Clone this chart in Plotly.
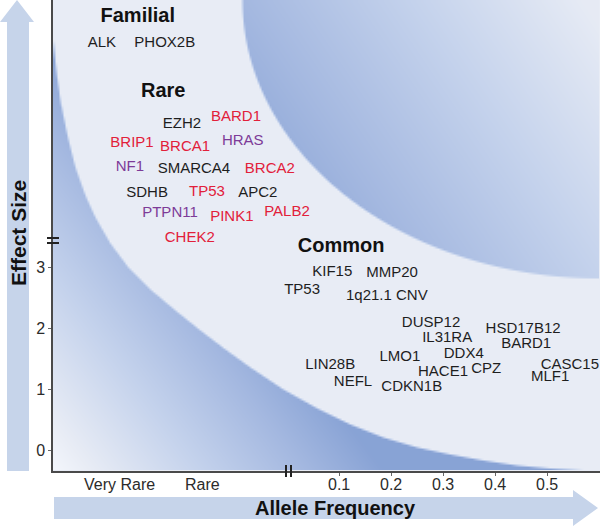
import numpy as np
import plotly.graph_objects as go

# ---------------- data ----------------
familial_genes = ["ALK", "PHOX2B"]
familial_x = [-0.356, -0.235]
familial_y = [6.69, 6.69]

rare_genes = ["EZH2", "BARD1", "BRIP1", "BRCA1", "HRAS", "NF1", "SMARCA4", "BRCA2",
              "SDHB", "TP53", "APC2", "PTPN11", "PINK1", "PALB2", "CHEK2"]
rare_x = [-0.202, -0.098, -0.298, -0.196, -0.085, -0.302, -0.179, -0.033,
          -0.269, -0.154, -0.056, -0.225, -0.106, 0.0, -0.187]
rare_y = [5.36, 5.48, 5.05, 4.98, 5.07, 4.65, 4.62, 4.62,
          4.23, 4.24, 4.23, 3.90, 3.83, 3.91, 3.49]
rare_group = ["k", "r", "r", "r", "p", "p", "k", "r",
              "k", "r", "k", "p", "r", "r", "r"]

common_genes = ["KIF15", "MMP20", "TP53", "1q21.1 CNV", "DUSP12", "HSD17B12", "IL31RA",
                "BARD1", "DDX4", "LMO1", "LIN28B", "CASC15", "HACE1", "CPZ", "MLF1",
                "NEFL", "CDKN1B"]
common_x = [0.087, 0.202, 0.029, 0.192, 0.277, 0.454, 0.308,
            0.460, 0.340, 0.217, 0.083, 0.544, 0.300, 0.383, 0.506,
            0.127, 0.240]
common_y = [2.93, 2.91, 2.63, 2.53, 2.09, 1.99, 1.83,
            1.74, 1.58, 1.53, 1.40, 1.40, 1.28, 1.32, 1.20,
            1.12, 1.04]

headers = ["Familial", "Rare", "Common"]
header_x = [-0.287, -0.238, 0.104]
header_y = [7.12, 5.89, 3.34]

y_ticks = [0, 1, 2, 3]
x_ticks = [0.1, 0.2, 0.3, 0.4, 0.5]
x_tick_text = ["0.1", "0.2", "0.3", "0.4", "0.5"]
rare_cat_labels = ["Very Rare", "Rare"]
rare_cat_x = [-0.323, -0.163]

# ---------------- layout geometry ----------------
W, H = 600, 526
ML, MB = 53, 55
PLOT_BOTTOM = H - MB          # 471
X0_PX, XS = 287.0, 520.0      # pixel of x=0, pixels per unit
Y0_PX, YS = 450.0, 60.8       # pixel of y=0, pixels per unit
x_range = [(ML - X0_PX) / XS, (W - X0_PX) / XS]
y_range = [(Y0_PX - PLOT_BOTTOM) / YS, Y0_PX / YS]

def px2x(p):
    return (p - X0_PX) / XS

def py2y(p):
    return (Y0_PX - p) / YS

def ppx(p):  # pixel -> paper x
    return (p - ML) / (W - ML)

def ppy(p):  # pixel -> paper y
    return (PLOT_BOTTOM - p) / PLOT_BOTTOM

# ---------------- schematic background (heatmap) ----------------
curve_px = np.array([53, 56, 60, 67, 75, 85, 95, 110, 128, 150, 175, 200, 225, 250,
                     283, 317, 350, 383, 417, 450, 483, 517, 550, 600], float)
curve_py = np.array([40, 70, 100, 135, 167, 195, 217, 243, 267, 289, 310, 330, 349, 367,
                     389, 408, 424, 437, 447, 454, 460, 465, 468, 471], float)

gx = np.arange(ML + 1, W, 2.0)
gy = np.arange(1, PLOT_BOTTOM, 2.0)
PX, PY = np.meshgrid(gx, gy)

BG = 0.13
# bottom-left gradient region, anti-aliased edge
cy = np.interp(PX, curve_px, curve_py)
slope = np.interp(PX, 0.5 * (curve_px[1:] + curve_px[:-1]),
                  np.diff(curve_py) / np.diff(curve_px))
d_curve = (PY - cy) / np.sqrt(1 + slope ** 2)
a_low = np.clip(d_curve / 2.0 + 0.5, 0, 1)
u = PX - ML
v = PLOT_BOTTOM - PY
t = np.clip((u + 0.75 * v) / 330.0, 0, 1)
z_low = 0.02 + 0.96 * t
# top-right elliptical region, anti-aliased edge
ea, eb = 358.0, 278.0
r = np.sqrt(((PX - 600) / ea) ** 2 + (PY / eb) ** 2)
gr = np.sqrt(((PX - 600) / ea ** 2) ** 2 + (PY / eb ** 2) ** 2) / np.maximum(r, 1e-6)
d_ell = (1 - r) / np.maximum(gr, 1e-6)
a_ell = np.clip(d_ell / 2.0 + 0.5, 0, 1)
s = (PX - 250) / 350.0
w = (278 - PY) / 278.0
z_ell = np.clip(1.07 - 0.62 * s - 0.333 * w, 0.15, 0.85)

z = BG * (1 - a_low) + z_low * a_low
z = z * (1 - a_ell) + z_ell * a_ell

colorscale = [[0.0, "#f5f8fd"], [0.13, "#e8ecf5"], [0.45, "#c4d2ec"],
              [0.75, "#a4b8e0"], [1.0, "#86a1d4"]]

fig = go.Figure()
fig.add_trace(go.Heatmap(
    x=px2x(gx), y=py2y(gy), z=np.round(z, 3),
    colorscale=colorscale, zmin=0, zmax=1, showscale=False,
    zsmooth="best", hoverinfo="skip"))

FONT = "Liberation Sans, Arial, sans-serif"
color_map = {"k": "#1e1e1e", "r": "#e2203a", "p": "#7d3b98"}

def text_trace(xs, ys, labels, size, colors):
    return go.Scatter(x=xs, y=ys, text=labels, mode="text",
                      textposition="middle center", cliponaxis=False,
                      textfont=dict(family=FONT, size=size, color=colors),
                      hoverinfo="text", showlegend=False)

fig.add_trace(text_trace(familial_x, familial_y, familial_genes, 15, color_map["k"]))
fig.add_trace(text_trace(rare_x, rare_y, rare_genes, 15,
                         [color_map[g] for g in rare_group]))
fig.add_trace(text_trace(common_x, common_y, common_genes, 15, color_map["k"]))
fig.add_trace(text_trace(header_x, header_y, ["<b>%s</b>" % h for h in headers], 20,
                         "#111111"))

# ---------------- arrows, breaks ----------------
arrow_col = "#c6d4ea"
shapes = []
vpath = "M {a},{b} L {c},{b} L {c},{d} L {e},{d} L {f},{g} L {h},{d} L {a},{d} Z".format(
    a=ppx(7), b=ppy(471), c=ppx(29), d=ppy(22), e=ppx(34), f=ppx(17), g=ppy(0), h=ppx(0))
shapes.append(dict(type="path", path=vpath, xref="paper", yref="paper",
                   fillcolor=arrow_col, line=dict(width=0), layer="below"))
hpath = "M {a},{b} L {c},{b} L {c},{d} L {e},{f} L {c},{g} L {c},{h} L {a},{h} Z".format(
    a=ppx(54), b=ppy(497), c=ppx(573), d=ppy(490), e=ppx(598), f=ppy(508),
    g=ppy(526), h=ppy(519))
shapes.append(dict(type="path", path=hpath, xref="paper", yref="paper",
                   fillcolor=arrow_col, line=dict(width=0), layer="below"))
for yy in (238, 243):
    shapes.append(dict(type="line", xref="paper", yref="paper",
                       x0=ppx(47), x1=ppx(59), y0=ppy(yy), y1=ppy(yy),
                       line=dict(color="#222222", width=2)))
for xx in (286, 291):
    shapes.append(dict(type="line", xref="paper", yref="paper",
                       x0=ppx(xx), x1=ppx(xx), y0=ppy(465), y1=ppy(477),
                       line=dict(color="#222222", width=2)))

annotations = [
    dict(text="<b>Effect Size</b>", xref="paper", yref="paper",
         x=ppx(18), y=ppy(233), xanchor="center", yanchor="middle",
         textangle=-90, showarrow=False,
         font=dict(family=FONT, size=21, color="#111111")),
    dict(text="<b>Allele Frequency</b>", xref="paper", yref="paper",
         x=ppx(335), y=ppy(508), xanchor="center", yanchor="middle", showarrow=False,
         font=dict(family=FONT, size=20, color="#111111")),
]
for lab, xv in zip(rare_cat_labels + x_tick_text, rare_cat_x + x_ticks):
    annotations.append(dict(text=lab, x=xv, xref="x", yref="paper", y=ppy(484),
                            xanchor="center", yanchor="middle", showarrow=False,
                            font=dict(family=FONT, size=16, color="#2b2b2b")))

fig.update_layout(
    width=W, height=H,
    margin=dict(l=ML, r=0, t=0, b=MB, autoexpand=False),
    paper_bgcolor="white", plot_bgcolor="#e8ecf5",
    showlegend=False,
    shapes=shapes, annotations=annotations,
    xaxis=dict(range=x_range, showgrid=False, zeroline=False, showline=True,
               linecolor="#4a4a4a", linewidth=1.5, ticks="outside", ticklen=3,
               tickcolor="#666666", tickvals=x_ticks, showticklabels=False,
               automargin=False, fixedrange=True),
    yaxis=dict(range=y_range, showgrid=False, zeroline=False, showline=True,
               linecolor="#4a4a4a", linewidth=1.5, ticks="outside", ticklen=3,
               tickcolor="#666666", tickvals=y_ticks, automargin=False,
               tickfont=dict(family=FONT, size=16, color="#2b2b2b"), fixedrange=True),
)

fig.write_html("out.html", config={"displayModeBar": False},
               post_script="document.body.style.margin='0px';"
                           "document.body.style.overflow='hidden';")
